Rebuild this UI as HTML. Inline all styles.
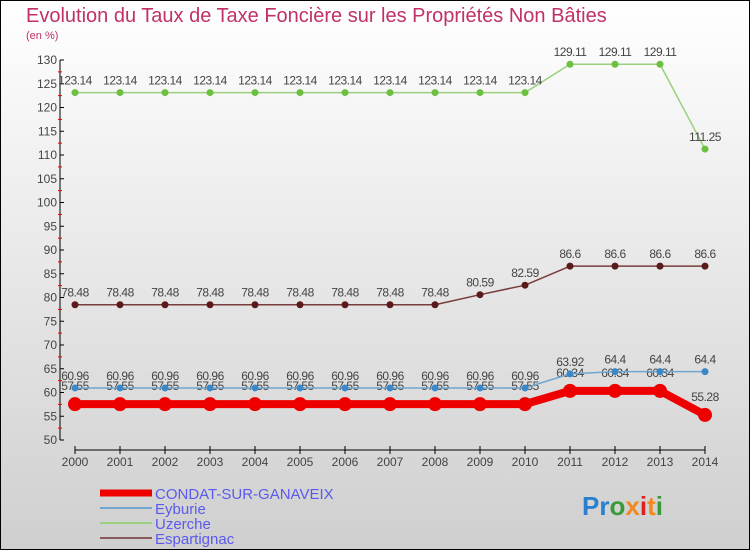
<!DOCTYPE html>
<html><head><meta charset="utf-8"><style>
body{margin:0}
#c{width:750px;height:550px;position:relative;font-family:"Liberation Sans",sans-serif}
</style></head><body>
<div id="c">
<svg id="s" width="750" height="550" xmlns="http://www.w3.org/2000/svg">
<defs><linearGradient id="bg" x1="0" y1="0" x2="0" y2="1"><stop offset="0" stop-color="#ffffff"/><stop offset="1" stop-color="#cfcfcf"/></linearGradient></defs>
<rect x="0.5" y="0.5" width="749" height="549" fill="url(#bg)" stroke="#000"/>
<text x="26" y="22" font-size="20" fill="#c0306a">Evolution du Taux de Taxe Foncière sur les Propriétés Non Bâties</text>
<text x="26" y="39" font-size="11" fill="#c0306a">(en %)</text>
<g id="axes"></g><g id="series"></g>
<g>
<line x1="100" y1="493" x2="152" y2="493" stroke="#e00" stroke-width="7"/>
<text x="155" y="499" font-size="15" fill="#5a5aee">CONDAT-SUR-GANAVEIX</text>
<line x1="100" y1="508" x2="152" y2="508" stroke="#6fa5cf" stroke-width="2"/>
<text x="155" y="514" font-size="15" fill="#5a5aee">Eyburie</text>
<line x1="100" y1="523" x2="152" y2="523" stroke="#9ad07e" stroke-width="2"/>
<text x="155" y="529" font-size="15" fill="#5a5aee">Uzerche</text>
<line x1="100" y1="538" x2="152" y2="538" stroke="#8a5a5a" stroke-width="2"/>
<text x="155" y="544" font-size="15" fill="#5a5aee">Espartignac</text>
</g>
<text x="582" y="515" font-size="26" font-weight="bold"><tspan fill="#2a7fd0">Pr</tspan><tspan fill="#3a9a3a">o</tspan><tspan fill="#f08a20">x</tspan><tspan fill="#e02020">i</tspan><tspan fill="#f08a20">t</tspan><tspan fill="#3a9a3a">i</tspan></text>
</svg></div>
<script>
const years=[2000,2001,2002,2003,2004,2005,2006,2007,2008,2009,2010,2011,2012,2013,2014];
const condat=[57.55,57.55,57.55,57.55,57.55,57.55,57.55,57.55,57.55,57.55,57.55,60.34,60.34,60.34,55.28];
const eyburie=[60.96,60.96,60.96,60.96,60.96,60.96,60.96,60.96,60.96,60.96,60.96,63.92,64.4,64.4,64.4];
const uzerche=[123.14,123.14,123.14,123.14,123.14,123.14,123.14,123.14,123.14,123.14,123.14,129.11,129.11,129.11,111.25];
const espartignac=[78.48,78.48,78.48,78.48,78.48,78.48,78.48,78.48,78.48,80.59,82.59,86.6,86.6,86.6,86.6];
const yTicks=[50,55,60,65,70,75,80,85,90,95,100,105,110,115,120,125,130];
const NS="http://www.w3.org/2000/svg";
const x=i=>75+i*45, y=v=>440-(v-50)*4.75;
function mk(t,a,p){const e=document.createElementNS(NS,t);for(const k in a)e.setAttribute(k,a[k]);p.appendChild(e);return e;}
const ax=document.getElementById('axes');
let l=mk('line',{x1:60,y1:y(130),x2:60,y2:y(50),stroke:'#000'},ax);


yTicks.forEach(v=>{mk('line',{x1:60,y1:y(v),x2:64,y2:y(v),stroke:'#000'},ax);
 if(v<130)mk('line',{x1:58,y1:y(v+2.5),x2:62,y2:y(v+2.5),stroke:'#e00'},ax);
 const t=mk('text',{x:57,y:y(v)+4,'font-size':12,'text-anchor':'end',fill:'#444'},ax);t.textContent=v;
 
 });
l=mk('line',{x1:75,y1:450,x2:705,y2:450,stroke:'#000'},ax);


years.forEach((yr,i)=>{mk('line',{x1:x(i),y1:446,x2:x(i),y2:454,stroke:'#000'},ax);
 const t=mk('text',{x:x(i),y:466,'font-size':12,'text-anchor':'middle',fill:'#444'},ax);t.textContent=yr;
 
 });
const sg=document.getElementById('series');
function draw(vals,name,col,w,r,dot,off){
 const g=mk('g',{},sg);
 
 
 mk('polyline',{points:vals.map((v,i)=>x(i)+','+y(v)).join(' '),fill:'none',stroke:col,'stroke-width':w,'stroke-linejoin':'round'},g);
 vals.forEach((v,i)=>{const c=mk('circle',{cx:x(i),cy:y(v),r:r,fill:dot},g);
  
  
  const t=mk('text',{x:x(i),y:y(v)+off,'font-size':12,'text-anchor':'middle',fill:'#444','letter-spacing':'-0.5'},g);t.textContent=v;
  
  });
}
draw(espartignac,'espartignac','#7a3a3a',1.5,3.5,'#5a1a1a',-8);
draw(uzerche,'uzerche','#9ad07e',1.5,3.5,'#6cc040',-8);
draw(condat,'condat','#e00',8,7,'#e00',-14);
draw(eyburie,'eyburie','#6fa5cf',1.5,3.5,'#3a88c8',-8);
</script></body></html>
